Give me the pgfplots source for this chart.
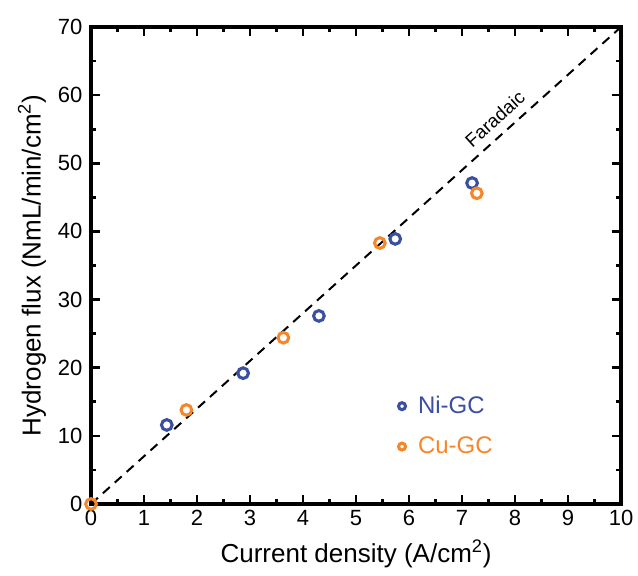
\documentclass[border=0pt]{standalone}
\usepackage{pgfplots}
\pgfplotsset{compat=1.18}
\usepackage{fontspec}
\setmainfont{Liberation Sans}
\definecolor{niblue}{HTML}{3B4FA2}
\definecolor{cuorange}{HTML}{F5872A}
\pgfplotsset{widelegend/.style={legend image code/.code={\path[draw=none,fill=none] (-3.5pt,0pt) -- (10pt,0pt);\draw[mark repeat=2,mark phase=2,##1] plot coordinates {(-5pt,0pt) (0pt,0pt) (5pt,0pt)};}}}
\begin{document}
\begin{tikzpicture}
\begin{axis}[
  scale only axis,
  width=397.5pt, height=357.75pt,
  xmin=0, xmax=10, ymin=0, ymax=70,
  xtick={0,1,...,10}, ytick={0,10,...,70},
  minor x tick num=1, minor y tick num=1,
  tick align=inside,
  major tick length=6.5pt, minor tick length=3.5pt,
  every tick/.style={black, line width=2pt},
  axis line style={line width=2.5pt},
  /pgf/number format/assume math mode=true,
  ticklabel style={font=\fontsize{16.5}{19}\selectfont},
  yticklabel style={xshift=-3pt},
  xticklabel style={yshift=-1pt},
  xlabel={Current density (A/cm\textsuperscript{2})},
  ylabel={Hydrogen flux (NmL/min/cm\textsuperscript{2})},
  label style={font=\fontsize{19.5}{22}\selectfont},
  xlabel style={yshift=-4pt},
  ylabel style={yshift=2pt},
  clip=false,
  legend style={draw=none, fill=none, at={(axis cs:5.70,16.6)}, anchor=north west,
    font=\fontsize{18}{21}\selectfont, row sep=12pt},
  legend cell align=left,
]
\addplot[black, dashed, line width=1.5pt, dash pattern=on 7pt off 5pt, forget plot] coordinates {(0,0) (10,70)};
\addplot[only marks, widelegend, mark=o, mark size=4pt, line width=2.3pt, draw=niblue,
  mark options={line width=2.3pt},
  legend image post style={mark size=2.6pt, line width=1.8pt}]
  coordinates {(1.43,11.6) (2.87,19.2) (4.30,27.6) (5.74,38.9) (7.19,47.1)};
\addlegendentry{\textcolor{niblue}{Ni-GC}}
\addplot[only marks, widelegend, mark=o, mark size=4pt, line width=2.3pt, draw=cuorange,
  mark options={line width=2.3pt},
  legend image post style={mark size=2.6pt, line width=1.8pt}]
  coordinates {(0,0) (1.80,13.8) (3.63,24.4) (5.45,38.3) (7.28,45.6)};
\addlegendentry{\textcolor{cuorange}{Cu-GC}}
\node[rotate=42, font=\fontsize{14}{16}\selectfont] at (axis cs:7.62,56.5) {Faradaic};
\coordinate (sw) at (rel axis cs:0,0);
\coordinate (ne) at (rel axis cs:1,1);
\end{axis}
\pgfresetboundingbox
\path ([xshift=-68.25pt,yshift=-54pt]sw) rectangle ([xshift=12.75pt,yshift=20.25pt]ne);
\end{tikzpicture}
\end{document}
